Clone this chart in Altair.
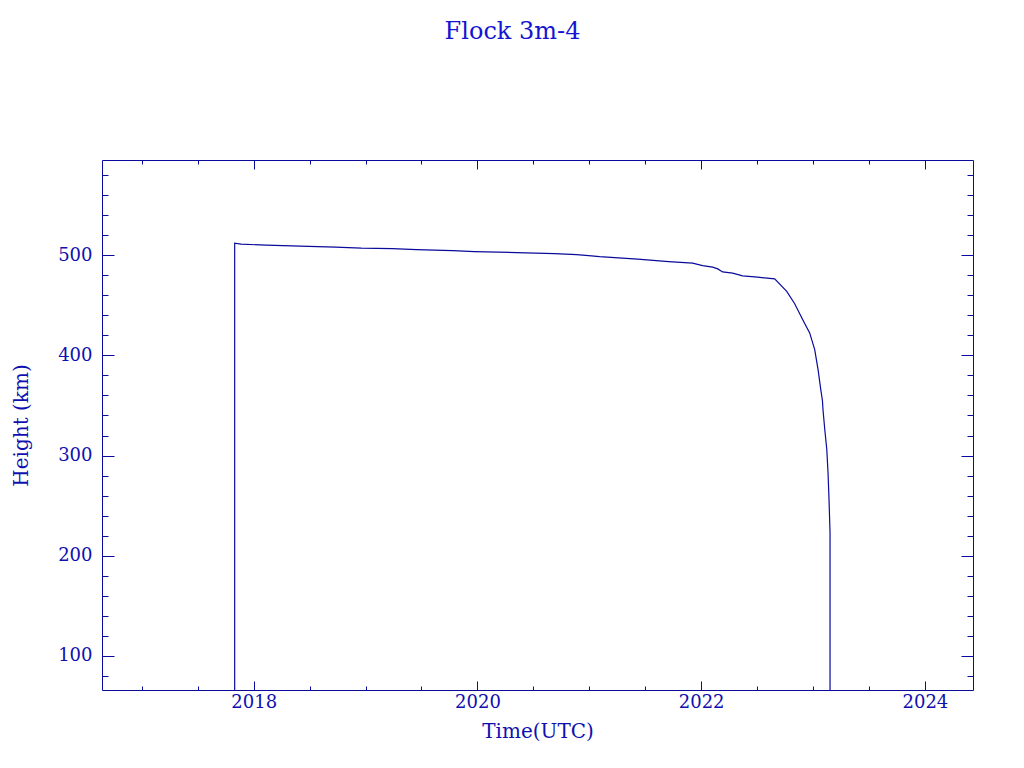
import altair as alt
import pandas as pd

# decimal year and orbit height (km)
years = [2017.830, 2017.830, 2017.887, 2018.111, 2018.415, 2018.731, 2018.963,
         2019.241, 2019.455, 2019.777, 2019.974, 2020.350, 2020.690, 2020.886,
         2020.994, 2021.092, 2021.432, 2021.709, 2021.924, 2022.013, 2022.103,
         2022.148, 2022.192, 2022.282, 2022.371, 2022.505, 2022.657, 2022.765,
         2022.836, 2022.908, 2022.970, 2023.015, 2023.045, 2023.069, 2023.084,
         2023.089, 2023.105, 2023.123, 2023.134, 2023.143, 2023.152, 2023.152]
heights = [0, 512, 511, 510, 509, 508, 507,
           506.6, 505.6, 504.6, 503.6, 502.6, 501.6, 500.6,
           499.6, 498.6, 496, 493.6, 492, 489.6, 488,
           486.3, 483.3, 482, 479.3, 478, 476.3, 463.8,
           451.5, 435.6, 422.4, 405.7, 385.8, 366, 355,
           346, 326, 306, 283, 256, 223, 0]

x_major = [2018, 2020, 2022, 2024]
x_minor = [2017.0, 2017.5, 2018.0, 2018.5, 2019.0, 2019.5, 2020.0, 2020.5, 2021.0,
           2021.5, 2022.0, 2022.5, 2023.0, 2023.5, 2024.0]
y_major = [100, 200, 300, 400, 500]
y_minor = [80, 100, 120, 140, 160, 180, 200, 220, 240, 260, 280, 300, 320, 340,
           360, 380, 400, 420, 440, 460, 480, 500, 520, 540, 560, 580]
x_domain = [2016.644, 2024.43]
y_domain = [66, 595]

df = pd.DataFrame({"t": years, "h": heights, "i": list(range(len(years)))})

NAVY = "#0A0A9C"
TXT = "#1010B0"
FONT = "DejaVu Serif"


def layer(xaxis, yaxis, opacity):
    return alt.Chart(df).mark_line(clip=True, color=NAVY, strokeWidth=1.2,
                                   opacity=opacity).encode(
        x=alt.X("t:Q", scale=alt.Scale(domain=x_domain, nice=False, zero=False),
                axis=xaxis),
        y=alt.Y("h:Q", scale=alt.Scale(domain=y_domain, nice=False, zero=False),
                axis=yaxis),
        order="i:Q",
    )


common = dict(domain=False, grid=False, tickColor=NAVY, tickWidth=1,
              labelFont=FONT, labelColor=TXT, labelFontSize=18,
              titleFont=FONT, titleColor=TXT, titleFontSize=20,
              titleFontWeight="normal")

l1 = layer(
    alt.Axis(orient="bottom", values=x_major, tickSize=9, offset=-9, format="d",
             labelPadding=3, title="Time(UTC)", titlePadding=10, **common),
    alt.Axis(orient="left", values=y_major, tickSize=12, offset=-12, format="d",
             labelPadding=10, title="Height (km)", titlePadding=26, **common),
    1,
)
l2 = layer(
    alt.Axis(orient="bottom", values=x_minor, tickSize=4, offset=-4, labels=False,
             title="", **common),
    alt.Axis(orient="left", values=y_minor, tickSize=6, offset=-6, labels=False,
             title="", **common),
    0,
)
l3 = layer(
    alt.Axis(orient="top", values=x_major, tickSize=9, offset=-9, labels=False,
             title="", **common),
    alt.Axis(orient="right", values=y_major, tickSize=12, offset=-12, labels=False,
             title="", **common),
    0,
)
l4 = layer(
    alt.Axis(orient="top", values=x_minor, tickSize=4, offset=-4, labels=False,
             title="", **common),
    alt.Axis(orient="right", values=y_minor, tickSize=6, offset=-6, labels=False,
             title="", **common),
    0,
)

chart = alt.layer(l4, l3, l2, l1).resolve_scale(
    x="independent", y="independent"
).properties(
    width=871, height=530,
    background="white",
    autosize=alt.AutoSizeParams(type="none"),
    padding={"left": 94, "top": 152, "right": 35, "bottom": 60},
    title=alt.TitleParams("Flock 3m-4", font=FONT, fontSize=24, color="#1414D2",
                          fontWeight="normal", anchor="middle", dx=-25,
                          offset=116),
).configure_view(stroke=NAVY, strokeWidth=1)

chart.save("out.html", embed_options={"renderer": "svg", "actions": False})
